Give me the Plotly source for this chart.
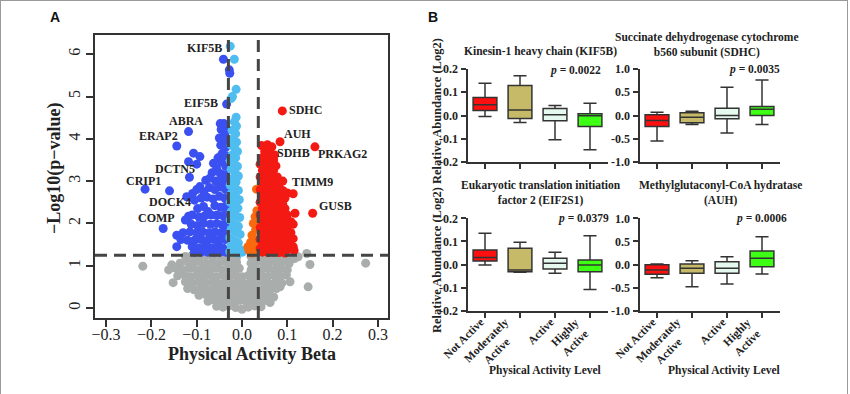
import plotly.graph_objects as go

W, H = 850, 394
SERIF = "Liberation Serif"
SANS = "Liberation Sans"
INK = "#333333"

# ---------------- Panel A: volcano data (beta, -log10 p) ----------------
blue_pts = [
    (-0.041, 5.88), (-0.028, 5.63), (-0.027, 5.55), (-0.034, 4.82),
    (-0.118, 4.17), (-0.144, 3.83), (-0.214, 2.81), (-0.160, 2.77), (-0.174, 1.88), (-0.116, 3.09),
    (-0.048, 4.36), (-0.040, 4.36), (-0.036, 4.28), (-0.046, 4.22), (-0.038, 4.12), (-0.050, 4.02),
    (-0.042, 3.98), (-0.035, 3.92), (-0.047, 3.85), (-0.036, 3.80),
    (-0.107, 3.66), (-0.093, 3.58), (-0.118, 3.46), (-0.100, 3.40), (-0.063, 3.42), (-0.056, 3.30),
    (-0.053, 3.55), (-0.044, 3.65), (-0.035, 3.60), (-0.045, 3.45), (-0.036, 3.35), (-0.066, 3.20),
    (-0.048, 3.18), (-0.036, 3.15),
    (-0.080, 3.02), (-0.071, 3.07), (-0.058, 3.00), (-0.045, 3.02), (-0.035, 2.98),
    (-0.093, 2.87), (-0.109, 2.71), (-0.100, 2.80), (-0.084, 2.75), (-0.072, 2.85), (-0.060, 2.80),
    (-0.048, 2.86), (-0.036, 2.80),
    (-0.122, 2.63), (-0.105, 2.55), (-0.090, 2.60), (-0.077, 2.62), (-0.064, 2.58), (-0.050, 2.64),
    (-0.038, 2.60),
    (-0.085, 2.40), (-0.098, 2.35), (-0.060, 2.42), (-0.047, 2.38), (-0.035, 2.42), (-0.075, 2.28),
    (-0.118, 2.17), (-0.125, 2.08), (-0.110, 2.20), (-0.095, 2.15), (-0.082, 2.18), (-0.068, 2.20),
    (-0.055, 2.20), (-0.042, 2.18), (-0.034, 2.25),
    (-0.112, 1.98), (-0.098, 1.95), (-0.085, 2.00), (-0.070, 1.98), (-0.056, 2.00), (-0.044, 1.97),
    (-0.035, 2.02),
    (-0.130, 1.78), (-0.115, 1.80), (-0.100, 1.78), (-0.087, 1.80), (-0.073, 1.78), (-0.060, 1.80),
    (-0.047, 1.78), (-0.036, 1.82), (-0.144, 1.72),
    (-0.135, 1.62), (-0.120, 1.60), (-0.105, 1.60), (-0.090, 1.62), (-0.076, 1.60), (-0.062, 1.62),
    (-0.050, 1.60), (-0.037, 1.62),
    (-0.144, 1.45), (-0.110, 1.45), (-0.096, 1.42), (-0.082, 1.45), (-0.068, 1.42), (-0.054, 1.45),
    (-0.042, 1.42),
    (-0.105, 1.32), (-0.090, 1.32), (-0.076, 1.32), (-0.062, 1.32), (-0.048, 1.32), (-0.036, 1.32),
]
lightblue_pts = [
    (-0.026, 6.19), (-0.017, 5.88), (-0.013, 5.17), (-0.021, 5.00), (-0.024, 4.95), (-0.013, 4.51),
    (-0.017, 4.40), (-0.012, 4.30), (-0.022, 4.20), (-0.014, 4.12), (-0.020, 4.00), (-0.012, 3.92),
    (-0.024, 3.85), (-0.016, 3.78), (-0.010, 3.70), (-0.022, 3.62), (-0.014, 3.55), (-0.026, 3.48),
    (-0.018, 3.42), (-0.010, 3.35), (-0.024, 3.28), (-0.015, 3.20), (-0.008, 3.12), (-0.022, 3.05),
    (-0.013, 2.98), (-0.026, 2.90), (-0.017, 2.84), (-0.008, 2.78), (-0.024, 2.70), (-0.014, 2.63),
    (-0.006, 2.56), (-0.026, 2.50), (-0.018, 2.44), (-0.009, 2.36), (-0.024, 2.28), (-0.014, 2.20),
    (-0.005, 2.14), (-0.026, 2.08), (-0.018, 2.00), (-0.008, 1.93), (-0.024, 1.86), (-0.014, 1.80),
    (-0.004, 1.74), (-0.027, 1.66), (-0.018, 1.60), (-0.008, 1.54), (-0.024, 1.48), (-0.013, 1.42),
    (-0.003, 1.38), (-0.027, 1.33), (-0.018, 1.31), (-0.008, 1.30), (0.001, 1.32),
]
orange_pts = [
    (0.032, 2.81), (0.029, 2.16), (0.025, 2.00), (0.033, 2.30), (0.022, 1.72), (0.030, 1.85),
    (0.019, 1.55), (0.032, 1.60), (0.015, 1.37), (0.025, 1.37), (0.032, 1.48), (0.013, 1.45),
    (0.022, 1.30), (0.033, 1.35), (0.030, 2.00), (0.027, 1.62),
]
red_pts = [
    (0.089, 4.66), (0.084, 3.93), (0.161, 3.81), (0.043, 3.84), (0.066, 3.81), (0.056, 3.86),
    (0.050, 3.70), (0.062, 3.68), (0.072, 3.62),
    (0.045, 3.55), (0.058, 3.52), (0.070, 3.50),
    (0.040, 3.40), (0.052, 3.38), (0.065, 3.40), (0.075, 3.36),
    (0.045, 3.25), (0.058, 3.24), (0.070, 3.26),
    (0.040, 3.10), (0.052, 3.12), (0.065, 3.08), (0.078, 3.10), (0.090, 3.00),
    (0.045, 2.95), (0.058, 2.94), (0.070, 2.96), (0.082, 2.92),
    (0.040, 2.80), (0.052, 2.82), (0.065, 2.78), (0.078, 2.80), (0.090, 2.78),
    (0.113, 2.70), (0.100, 2.72),
    (0.045, 2.65), (0.058, 2.64), (0.070, 2.66), (0.082, 2.62), (0.095, 2.60),
    (0.040, 2.50), (0.052, 2.52), (0.065, 2.48), (0.078, 2.50), (0.090, 2.46),
    (0.045, 2.35), (0.058, 2.34), (0.070, 2.36), (0.082, 2.32), (0.095, 2.35),
    (0.117, 2.24), (0.156, 2.24),
    (0.040, 2.20), (0.052, 2.22), (0.065, 2.18), (0.078, 2.20), (0.090, 2.18), (0.100, 2.20),
    (0.045, 2.05), (0.058, 2.04), (0.070, 2.06), (0.082, 2.02), (0.095, 2.05), (0.108, 2.04),
    (0.040, 1.90), (0.052, 1.92), (0.065, 1.88), (0.078, 1.90), (0.090, 1.88), (0.100, 1.92), (0.113, 1.98),
    (0.045, 1.75), (0.058, 1.74), (0.070, 1.76), (0.082, 1.72), (0.095, 1.75), (0.108, 1.78),
    (0.040, 1.62), (0.052, 1.62), (0.065, 1.60), (0.078, 1.62), (0.090, 1.60), (0.113, 1.64), (0.102, 1.60),
    (0.045, 1.50), (0.058, 1.50), (0.070, 1.48), (0.082, 1.50), (0.095, 1.50), (0.105, 1.48), (0.113, 1.45),
    (0.040, 1.40), (0.052, 1.38), (0.065, 1.40), (0.078, 1.38), (0.090, 1.40), (0.100, 1.38), (0.115, 1.36),
    (0.045, 1.32), (0.058, 1.31), (0.070, 1.32), (0.082, 1.31), (0.095, 1.30),
]
gray_pts = [
    (-0.125, 1.22), (-0.110, 1.25), (-0.095, 1.20), (-0.080, 1.24), (-0.065, 1.21), (-0.050, 1.25),
    (-0.036, 1.20), (-0.022, 1.24), (-0.012, 1.20), (0.020, 1.22), (0.032, 1.25), (0.046, 1.20),
    (0.060, 1.24), (0.075, 1.21), (0.090, 1.25), (0.105, 1.20), (0.124, 1.21), (0.143, 1.29),
    (-0.219, 0.99), (-0.155, 1.02), (-0.137, 1.06), (-0.122, 1.10), (-0.108, 1.06), (-0.094, 1.10),
    (-0.080, 1.05), (-0.066, 1.09), (-0.052, 1.06), (-0.038, 1.10), (-0.024, 1.05), (-0.012, 1.08),
    (0.020, 1.06), (0.034, 1.10), (0.048, 1.05), (0.062, 1.09), (0.076, 1.06), (0.090, 1.10),
    (0.104, 1.05), (0.116, 1.17), (0.150, 1.03), (0.273, 1.06),
    (-0.162, 0.90), (-0.146, 0.94), (-0.130, 0.90), (-0.115, 0.94), (-0.100, 0.90), (-0.086, 0.93),
    (-0.072, 0.90), (-0.058, 0.94), (-0.044, 0.90), (-0.030, 0.93), (-0.016, 0.90), (-0.006, 0.94),
    (0.020, 0.90), (0.030, 0.94), (0.044, 0.90), (0.058, 0.93), (0.072, 0.90), (0.086, 0.94), (0.100, 0.90),
    (-0.142, 0.76), (-0.126, 0.78), (-0.112, 0.74), (-0.098, 0.78), (-0.084, 0.75), (-0.070, 0.78),
    (-0.056, 0.74), (-0.042, 0.77), (-0.028, 0.75), (-0.014, 0.78), (0.000, 0.74), (0.014, 0.77),
    (0.028, 0.75), (0.042, 0.78), (0.056, 0.74), (0.070, 0.77), (0.084, 0.75), (0.098, 0.78), (0.106, 0.62),
    (-0.152, 0.60), (-0.125, 0.62), (-0.110, 0.58), (-0.095, 0.62), (-0.080, 0.59), (-0.066, 0.62),
    (-0.052, 0.58), (-0.038, 0.61), (-0.024, 0.59), (-0.010, 0.62), (0.004, 0.58), (0.018, 0.61),
    (0.032, 0.59), (0.046, 0.62), (0.060, 0.58), (0.074, 0.61), (0.088, 0.59),
    (-0.120, 0.46), (-0.106, 0.43), (-0.092, 0.47), (-0.078, 0.44), (-0.064, 0.46), (-0.050, 0.43),
    (-0.036, 0.47), (-0.022, 0.44), (-0.008, 0.46), (0.006, 0.43), (0.020, 0.47), (0.034, 0.44),
    (0.048, 0.46), (0.062, 0.43), (0.076, 0.46), (0.084, 0.50), (0.146, 0.50),
    (-0.095, 0.30), (-0.080, 0.32), (-0.066, 0.28), (-0.052, 0.31), (-0.038, 0.29), (-0.024, 0.32),
    (-0.010, 0.28), (0.004, 0.31), (0.018, 0.29), (0.032, 0.32), (0.046, 0.28), (0.060, 0.31), (0.070, 0.26),
    (-0.075, 0.16), (-0.060, 0.18), (-0.046, 0.14), (-0.032, 0.17), (-0.018, 0.15), (-0.004, 0.18),
    (0.010, 0.14), (0.024, 0.17), (0.038, 0.15), (0.052, 0.18), (0.062, 0.13),
    (-0.056, 0.04), (-0.042, 0.02), (-0.028, 0.05), (-0.014, 0.01), (0.000, -0.03), (0.014, 0.02),
    (0.028, 0.05), (0.042, 0.03),
]
gene_labels = [
    ("KIF5B", -0.040, 6.14, "right"), ("EIF5B", -0.0486, 4.84, "right"),
    ("ABRA", -0.123, 4.43, "center"), ("ERAP2", -0.185, 4.07, "center"),
    ("DCTN5", -0.148, 3.29, "center"), ("CRIP1", -0.218, 3.01, "center"),
    ("DOCK4", -0.160, 2.51, "center"), ("COMP", -0.188, 2.12, "center"),
    ("SDHC", 0.100, 4.68, "left"), ("AUH", 0.123, 4.12, "center"),
    ("SDHB", 0.114, 3.66, "center"), ("PRKAG2", 0.221, 3.63, "center"),
    ("TIMM9", 0.155, 2.99, "center"), ("GUSB", 0.206, 2.40, "center"),
]
x_ticks = [-0.3, -0.2, -0.1, 0.0, 0.1, 0.2, 0.3]
y_ticks = [0, 1, 2, 3, 4, 5, 6]
p_cut = 1.25
beta_cuts = [-0.030, 0.036]

# ---------------- Panel B: box plot data ----------------
levels = ["Not Active", "Moderately<br>Active", "Active", "Highly<br>Active"]
level_colors = ["#FF1010", "#C6BA68", "#E6F9EE", "#3CFF14"]
# (lower whisker, Q1, median, Q3, upper whisker) for each activity level
kif5b_stats = [(-0.004, 0.021, 0.046, 0.077, 0.139), (-0.030, -0.013, 0.024, 0.129, 0.171),
               (-0.104, -0.023, 0.003, 0.030, 0.043), (-0.147, -0.047, -0.001, 0.007, 0.053)]
sdhc_stats = [(-0.550, -0.236, -0.107, 0.014, 0.071), (-0.193, -0.157, -0.036, 0.057, 0.093),
              (-0.379, -0.071, 0.000, 0.157, 0.607), (-0.193, 0.000, 0.136, 0.193, 0.764)]
eif2s1_stats = [(-0.002, 0.015, 0.030, 0.063, 0.135), (-0.034, -0.031, -0.024, 0.070, 0.096),
                (-0.038, -0.019, 0.005, 0.027, 0.053), (-0.108, -0.031, -0.002, 0.019, 0.125)]
auh_stats = [(-0.285, -0.213, -0.119, -0.004, 0.011), (-0.480, -0.191, -0.083, 0.011, 0.083),
             (-0.422, -0.191, -0.083, 0.061, 0.170), (-0.206, -0.047, 0.134, 0.292, 0.603)]
small_ticks = [-0.2, -0.1, 0.0, 0.1, 0.2]
small_text = ["-0.2", "-0.1", "0.0", "0.1", "0.2"]
big_ticks = [-1.0, -0.5, 0.0, 0.5, 1.0]
big_text = ["-1.0", "-0.5", "0.0", "0.5", "1.0"]
panels = [
    ("Kinesin-1 heavy chain (KIF5B)", "0.0022", kif5b_stats, "small"),
    ("Succinate dehydrogenase cytochrome<br>b560 subunit (SDHC)", "0.0035", sdhc_stats, "big"),
    ("Eukaryotic translation initiation<br>factor 2 (EIF2S1)", "0.0379", eif2s1_stats, "small"),
    ("Methylglutaconyl-CoA hydratase<br>(AUH)", "0.0006", auh_stats, "big"),
]


def px(x):
    return x / W


def py(y):
    return 1 - y / H


fig = go.Figure()

groups = [(gray_pts, "#A9AEAC"), (blue_pts, "#3B50F0"), (lightblue_pts, "#4FBDEF"),
          (orange_pts, "#F96A0E"), (red_pts, "#F41A14")]
for pts, col in groups:
    fig.add_trace(go.Scatter(x=[p[0] for p in pts], y=[p[1] for p in pts], mode="markers",
                             marker=dict(size=9, color=col, line=dict(width=0)),
                             xaxis="x", yaxis="y", showlegend=False, hoverinfo="skip"))

for k, (title, pval, stats, scale) in enumerate(panels):
    ax = str(k + 2)
    for i, st in enumerate(stats):
        lo, q1, med, q3, hi = st
        fig.add_trace(go.Box(x=[i], lowerfence=[lo], q1=[q1], median=[med], q3=[q3], upperfence=[hi],
                             orientation="v", width=0.68, whiskerwidth=0.55,
                             fillcolor=level_colors[i], line=dict(color=INK, width=1.5),
                             boxpoints=False, xaxis="x" + ax, yaxis="y" + ax,
                             showlegend=False, hoverinfo="skip"))

layout = dict(
    width=W, height=H, margin=dict(l=0, r=0, t=0, b=0, autoexpand=False),
    paper_bgcolor="white", plot_bgcolor="white", showlegend=False, hovermode=False,
    xaxis=dict(domain=[px(95), px(388)], range=[-0.3245, 0.3223], tickvals=x_ticks, automargin=False,
               tickformat=".1f", ticks="outside", ticklen=7, tickwidth=1.5, tickcolor=INK,
               ticklabelstandoff=-6,
               showline=True, linecolor=INK, linewidth=1.5, mirror=True, showgrid=False, zeroline=False,
               tickfont=dict(family=SERIF, size=16, color="#222")),
    yaxis=dict(domain=[py(318), py(35)], range=[-0.236, 6.454], tickvals=y_ticks, automargin=False,
               ticks="outside", ticklen=7, tickwidth=1.5, tickcolor=INK, tickangle=-90,
               showline=True, linecolor=INK, linewidth=1.5, mirror=True, showgrid=False, zeroline=False,
               tickfont=dict(family=SERIF, size=16, color="#222")),
)

xdomains = [[px(467.5), px(607.5)], [px(639.5), px(779.5)], [px(467.5), px(607.5)], [px(639.5), px(779.5)]]
ydomains = [[py(162), py(69)], [py(162), py(69)], [py(310.7), py(218.3)], [py(310.7), py(218.3)]]
for k, (title, pval, stats, scale) in enumerate(panels):
    ax = str(k + 2)
    layout["xaxis" + ax] = dict(
        domain=xdomains[k], range=[-0.5, 3.5], tickvals=[0, 1, 2, 3], automargin=False,
        showticklabels=False, ticks="outside", ticklen=5, tickwidth=1.5, tickcolor=INK,
        showline=True, linecolor=INK, linewidth=2, showgrid=False, zeroline=False,
        anchor="y" + ax)
    tv, tt, rg = (small_ticks, small_text, [-0.2, 0.2]) if scale == "small" else (big_ticks, big_text, [-1, 1])
    layout["yaxis" + ax] = dict(
        domain=ydomains[k], range=rg, tickvals=tv, ticktext=tt, automargin=False,
        ticks="outside", ticklen=5, tickwidth=1.5, tickcolor=INK,
        showline=True, linecolor=INK, linewidth=2, showgrid=False, zeroline=False,
        anchor="x" + ax,
        tickfont=dict(family=SERIF, size=12, color="#222", weight="bold"))

fig.update_layout(**layout)

dash = "12px,7px"
fig.add_shape(type="line", xref="x domain", yref="y", x0=0, x1=1, y0=p_cut, y1=p_cut,
              line=dict(color="#454545", width=3, dash=dash))
for b in beta_cuts:
    fig.add_shape(type="line", xref="x", yref="y domain", x0=b, x1=b, y0=0, y1=1,
                  line=dict(color="#454545", width=3, dash=dash))

for (x0, y0, x1, y1) in [(0, 0.5, W - 2, 0.5), (0.5, 0, 0.5, H), (W - 2.5, 0, W - 2.5, H)]:
    fig.add_shape(type="line", xref="paper", yref="paper", x0=px(x0), x1=px(x1), y0=py(y0), y1=py(y1),
                  line=dict(color="#9a9a9a", width=1))

ann = []


def bold_serif(s):
    return dict(family=SERIF, size=s, color="#222", weight="bold")


def note(text, x, y, font, xanchor="center", textangle=0):
    return dict(text=text, x=px(x), y=py(y), xref="paper", yref="paper", xanchor=xanchor,
                yanchor="middle", textangle=textangle, showarrow=False, font=font)


ann.append(note("A", 55, 17, dict(family=SANS, size=14, color="#111", weight="bold")))
ann.append(note("B", 433, 17, dict(family=SANS, size=14, color="#111", weight="bold")))
for name, gx, gy, anc in gene_labels:
    ann.append(dict(text=name, x=gx, y=gy, xref="x", yref="y", xanchor=anc, yanchor="middle",
                    showarrow=False, font=bold_serif(12)))
ann.append(note("\u2212Log10(p\u2212value)", 55, 168, bold_serif(18), textangle=-90))
ann.append(note("Physical Activity Beta", 252, 354, bold_serif(18)))

title_pos = [(540, 52), (707, 45), (541, 193), (720, 193)]
p_pos = [(603, 70.7), (782, 70), (611, 218.3), (789, 218)]
for k, (title, pval, stats, scale) in enumerate(panels):
    ann.append(note(title, title_pos[k][0], title_pos[k][1], bold_serif(11.5)))
    ann.append(note("<i>p</i> = " + pval, p_pos[k][0], p_pos[k][1], bold_serif(11.5), xanchor="right"))
# rotated category labels under the bottom row of box plots
for k in (2, 3):
    for i, lab in enumerate(levels):
        ann.append(dict(text=lab, x=i, xref="x" + str(k + 2), y=py(313), yref="paper",
                        xanchor="right", yanchor="top", textangle=-45, align="center",
                        showarrow=False, xshift=4, font=bold_serif(11.5)))
for yy in (111, 260):
    ann.append(note("Relative Abundance (Log2)", 437, yy, bold_serif(12.5), textangle=-90))
for xx in (545, 724):
    ann.append(note("Physical Activity Level", xx, 370, bold_serif(11.5)))
fig.update_layout(annotations=ann)

fig.write_html("out.html", config={"displayModeBar": False},
               post_script="document.body.style.margin='0';")
